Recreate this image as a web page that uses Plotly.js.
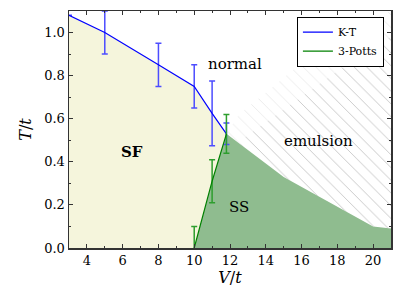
<!DOCTYPE html>
<html><head><meta charset="utf-8">
<script src="https://cdn.plot.ly/plotly-3.0.1.min.js"></script>
<style>body{margin:0;padding:0;background:#fff}#chart{width:415px;height:297px}</style>
</head><body><div id="chart"></div>
<script>
// K-T transition line
const ktV = [3, 5, 8, 10, 11, 11.8];
const ktT = [1.08, 1.0, 0.85, 0.75, 0.625, 0.53];
const ktErr = [0, 0.1, 0.1, 0.1, 0.15, 0.05];
// 3-state Potts line
const pottsV = [10, 11, 11.8];
const pottsT = [0, 0.31, 0.53];
const pottsErr = [0.1, 0.1, 0.09];
// SS / emulsion boundary
const ssV = [11.8, 15, 20, 21];
const ssT = [0.53, 0.33, 0.1, 0.09];
// emulsion / normal boundary (fading hatch edge)
const emV = [11.8, 12.5, 14, 16, 18, 20, 21];
const emT = [0.53, 0.62, 0.72, 0.86, 0.97, 1.06, 1.1];
const emInnerV = [12.6, 14, 16, 18, 20, 21];
const emInnerT = [0.5, 0.58, 0.7, 0.82, 0.93, 0.98];
// region labels
const labels = [
  {text: 'normal', V: 12.3, T: 0.856, bold: false},
  {text: 'SF', V: 6.5, T: 0.444, bold: true},
  {text: 'SS', V: 12.5, T: 0.19, bold: false},
  {text: 'emulsion', V: 16.95, T: 0.496, bold: false}
];
const xRange = [3, 21], yRange = [0, 1.1];

const serif = 'DejaVu Serif';

// SF region
const sfX = ktV.concat(pottsV.slice().reverse(), [xRange[0]]);
const sfY = ktT.concat(pottsT.slice().reverse(), [0]);
// SS region
const ssX = pottsV.concat(ssV.slice(1), [xRange[1], pottsV[0]]);
const ssY = pottsT.concat(ssT.slice(1), [0, 0]);
// hatch region
const hX = ssV.concat([xRange[1]], emV.slice(0, -1).reverse());
const hY = ssT.concat([yRange[1]], emT.slice(0, -1).reverse());
// inner hatch (darker)
const hiX = [emInnerV[0]].concat(ssV.slice(1).filter(v => v > emInnerV[0]), [xRange[1]], emInnerV.slice(0, -1).reverse());
const hiY = [0.53 - (emInnerV[0]-11.8)*0.0625].concat(ssT.slice(1).filter((t, i) => ssV[i+1] > emInnerV[0]), [emInnerT[emInnerT.length-1]], emInnerT.slice(0, -1).reverse());

const traces = [
  {x: sfX, y: sfY, fill: 'toself', fillcolor: '#f5f5dc', mode: 'lines', line: {width: 0}, showlegend: false, hoverinfo: 'skip'},
  {x: ssX, y: ssY, fill: 'toself', fillcolor: '#8fbc8f', mode: 'lines', line: {width: 0}, showlegend: false, hoverinfo: 'skip'},
  {x: hX, y: hY, fill: 'toself', fillcolor: 'rgba(0,0,0,0)', mode: 'lines', line: {width: 0},
   fillpattern: {shape: '\\', size: 9, solidity: 0.08, fgcolor: '#cccccc', bgcolor: 'rgba(0,0,0,0)', fillmode: 'overlay'},
   showlegend: false, hoverinfo: 'skip'},
  {x: hiX, y: hiY, fill: 'toself', fillcolor: 'rgba(0,0,0,0)', mode: 'lines', line: {width: 0},
   fillpattern: {shape: '\\', size: 9, solidity: 0.08, fgcolor: '#999999', bgcolor: 'rgba(0,0,0,0)', fillmode: 'overlay'},
   showlegend: false, hoverinfo: 'skip'},
  {x: ktV, y: ktT, mode: 'lines', name: 'K-T', line: {color: '#0000ff', width: 1.2},
   error_y: {type: 'data', array: ktErr, visible: true, color: '#4d4dff', thickness: 1.5, width: 3}},
  {x: pottsV, y: pottsT, mode: 'lines', name: '3-Potts', line: {color: '#008000', width: 1.2},
   error_y: {type: 'data', array: pottsErr, visible: true, color: '#2e9e2e', thickness: 1.5, width: 3}}
];

const annotations = labels.map(l => ({
  x: l.V, y: l.T, xref: 'x', yref: 'y', showarrow: false,
  text: l.bold ? '<b>' + l.text + '</b>' : l.text,
  font: {family: serif, size: 15, color: '#000'}
}));

const axisCommon = {
  showline: true, linecolor: '#333', linewidth: 1.5, mirror: 'ticks',
  ticks: 'inside', ticklen: 4, tickwidth: 1, tickcolor: '#333',
  showgrid: false, zeroline: false,
  tickfont: {family: serif, size: 13, color: '#000'}
};

const layout = {
  width: 415, height: 297,
  margin: {l: 69, r: 24, t: 11, b: 49},
  paper_bgcolor: '#fff', plot_bgcolor: '#fff',
  font: {family: serif},
  xaxis: Object.assign({}, axisCommon, {range: xRange, tickvals: [4, 6, 8, 10, 12, 14, 16, 18, 20],
    minor: {dtick: 1, tick0: 3, ticks: 'inside', ticklen: 2, tickcolor: '#333'},
    title: {text: '<i>V</i>/<i>t</i>', font: {family: serif, size: 16, color: '#000'}, standoff: 0}}),
  yaxis: Object.assign({}, axisCommon, {range: yRange, tickvals: [0, 0.2, 0.4, 0.6, 0.8, 1.0], tickformat: '.1f',
    minor: {dtick: 0.1, tick0: 0, ticks: 'inside', ticklen: 2, tickcolor: '#333'},
    title: {text: '<i>T</i>/<i>t</i>', font: {family: serif, size: 16, color: '#000'}, standoff: 8}}),
  legend: {x: 0.978, y: 0.976, xanchor: 'right', yanchor: 'top', bgcolor: '#fff', bordercolor: '#000', borderwidth: 1,
    font: {family: serif, size: 11, color: '#000'}, itemwidth: 30, tracegroupgap: 0},
  annotations: annotations,
  showlegend: true
};

Plotly.newPlot('chart', traces, layout, {staticPlot: true});
</script></body></html>
